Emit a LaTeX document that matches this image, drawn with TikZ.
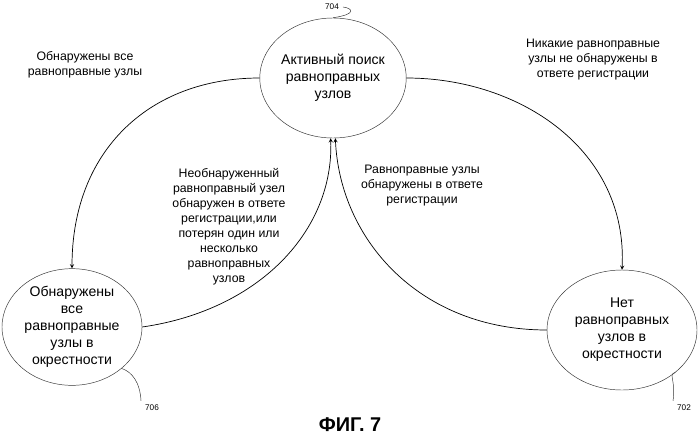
\documentclass[tikz,border=0pt]{standalone}
\usepackage{fontspec}
\setmainfont{Liberation Sans}
\usetikzlibrary{arrows, shapes.geometric}

\begin{document}
\begin{tikzpicture} [x=0.03cm, y=-0.03cm,
		% define styles
		statenodestyle/.style={
			% The shape:
			ellipse,
			draw=black!80,
			inner sep=0pt,
			% Font
			font=\fontsize{12}{14.5}\selectfont,
			align=center
		},
		labelstyle/.style={
			font=\fontsize{10.5}{12.8}\selectfont,
			align=center
		},
		refstyle/.style={
			font=\fontsize{7}{8}\selectfont
		},
		arrow/.style={
			->,
			>=stealth,
			semithick,
			black
		}]
		% end of style definition
		\useasboundingbox (0,0) rectangle (699,443);

		% draw nodes
		\node (iSearch) [statenodestyle, minimum width=4.2cm, minimum height=3.6cm] at (333,78) {Активный поиск\\равноправных\\узлов};
		\node (iFound) [statenodestyle, minimum width=4.2cm, minimum height=3.5cm] at (72,327) {Обнаружены\\все\\равноправные\\узлы в\\окрестности};
		\node (iNone) [statenodestyle, minimum width=4.5cm, minimum height=3.6cm] at (622,330) {Нет\\равноправных\\узлов в\\окрестности};

		% reference numbers
		\node (iRef704) [refstyle] at (332,7) {704};
		\node (iRef706) [refstyle] at (152,408) {706};
		\node (iRef702) [refstyle] at (684,408) {702};
		\draw [black!80] (iRef704.east) .. controls (352,8) and (358,14) .. (iSearch.north);
		\draw [black!80] (iRef706.north west) .. controls (140,382) and (132,372) .. (iFound.south east);
		\draw [black!80] (iRef702.north west) .. controls (676,380) and (668,374) .. (iNone.south east);

		% connect nodes
		\draw [arrow] (iSearch.west) .. controls (150,78) and (72,150) .. (iFound.north);
		\draw [arrow] (iSearch.east) .. controls (520,78) and (628,150) .. (iNone.north);
		\draw [arrow] (iFound.east) .. controls (260,310) and (334,230) .. ([xshift=-2]iSearch.south);
		\draw [arrow] (iNone.west) .. controls (420,330) and (340,240) .. ([xshift=2]iSearch.south);

		% edge labels
		\node (iLabelA) [labelstyle] at (85,65) {Обнаружены все\\равноправные узлы};
		\node (iLabelB) [labelstyle] at (593,60) {Никакие равноправные\\узлы не обнаружены в\\ответе регистрации};
		\node (iLabelC) [labelstyle] at (229,227) {Необнаруженный\\равноправный узел\\обнаружен в ответе\\регистрации,или\\потерян один или\\несколько\\равноправных\\узлов};
		\node (iLabelD) [labelstyle] at (422,186) {Равноправные узлы\\обнаружены в ответе\\регистрации};
		\node (iCaption) [font=\bfseries\fontsize{17}{20}\selectfont] at (350,425) {ФИГ. 7};
	\end{tikzpicture}
\end{document}
